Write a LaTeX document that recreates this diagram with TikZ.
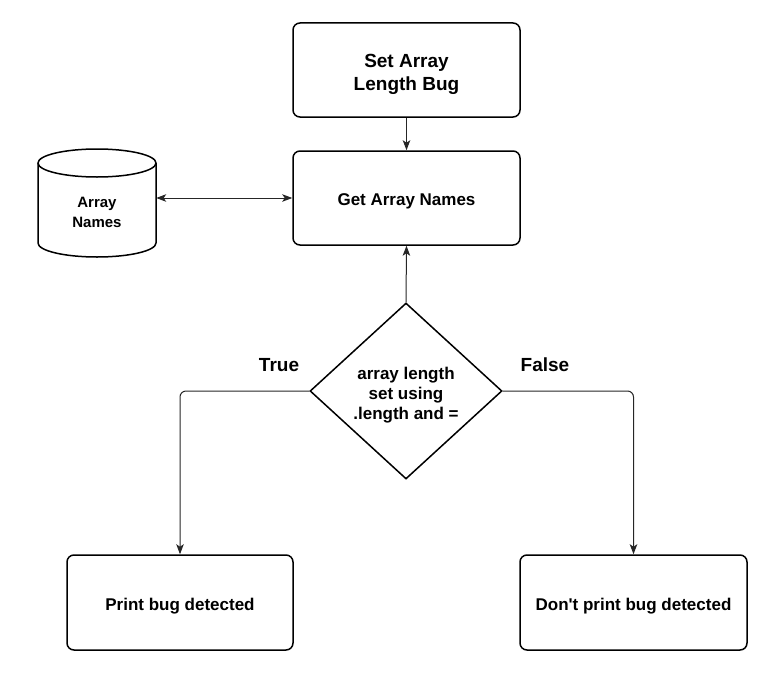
\documentclass[tikz,border=0pt]{standalone}
\usepackage{fontspec}
\newfontfamily\lsans{Liberation Sans}
\usetikzlibrary{shapes.geometric,arrows.meta}
\newcommand{\lift}[1]{\rule{0pt}{#1}}
\begin{document}
\begin{tikzpicture}[x=1pt,y=-1pt,
  >={Stealth[length=10pt,width=7.5pt,inset=2.5pt]},
  box/.style={draw, line width=1.5pt, rounded corners=7pt, minimum width=227pt, minimum height=94pt, inner sep=0pt, align=center, font=\lsans\bfseries\fontsize{17}{20}\selectfont},
  dia/.style={diamond, draw, line width=1.5pt, minimum width=192pt, minimum height=176pt, aspect=1.09, inner sep=0pt, align=center, font=\lsans\bfseries\fontsize{17}{20}\selectfont},
  lbl/.style={inner sep=0pt, font=\lsans\bfseries\fontsize{19}{22}\selectfont},
  arr/.style={->, line width=1pt, black!85},
  cyl/.style={line width=1.5pt}
]
\useasboundingbox (0,0) rectangle (773,677);
% boxes
\node[box, font=\lsans\bfseries\fontsize{19}{23}\selectfont] (top) at (406.5,70) {\lift{22pt}Set Array\\Length Bug};
\node[box] (get) at (406.5,198) {\lift{19pt}Get Array Names};
\node[dia] (d) at (406,391) {\lift{21pt}array length\\set using\\.length and =};
\node[box, minimum width=226pt, minimum height=95pt] (pl) at (180,602.5) {\lift{19pt}Print bug detected};
\node[box, minimum height=95pt] (pr) at (633.5,602.5) {\lift{19pt}Don't print bug detected};
% cylinder
\draw[cyl, fill=white] (38,163) -- (38,243) arc[start angle=180, end angle=360, x radius=59pt, y radius=14pt] -- (156,163);
\draw[cyl] (97,163) ellipse[x radius=59pt, y radius=14pt];
\node[minimum width=118pt, inner sep=0pt, align=center, font=\lsans\bfseries\fontsize{15}{20}\selectfont] (db) at (97,212) {Array\\Names};
% labels
\node[lbl] (tl) at (279,365) {True};
\node[lbl] (fl) at (545,365) {False};
% connectors
\draw[arr] (top) -- (get);
\draw[arr] (d.north) -- (get.south);
\draw[arr, <->] (get.west -| db.east) -- (get.west);
\draw[arr, rounded corners=6pt] (d.west) -| (pl.north);
\draw[arr, rounded corners=6pt] (d.east) -| (pr.north);
\end{tikzpicture}
\end{document}
